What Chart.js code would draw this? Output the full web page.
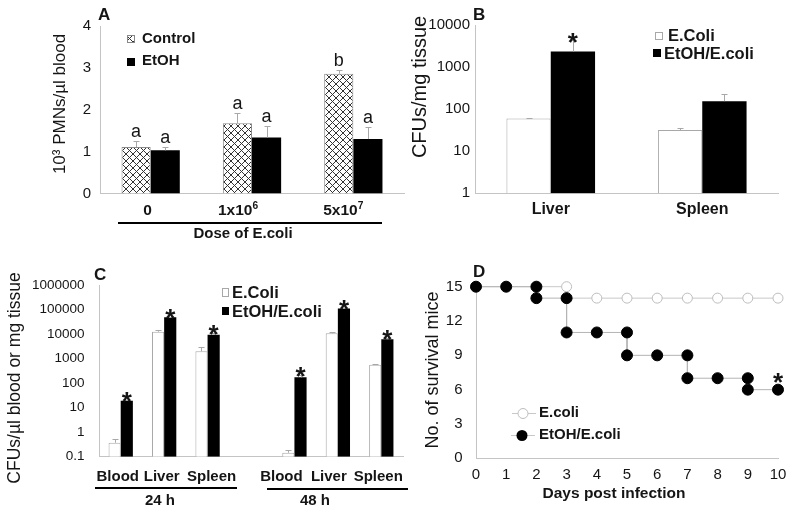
<!DOCTYPE html>
<html lang="en">
<head>
  <meta charset="UTF-8">
  <title>Ethanol and E. coli infection</title>
  <script src="https://cdn.jsdelivr.net/npm/chart.js"></script>
  <style>
    body { margin: 0; background: #fff; }
    #wrap { position: relative; width: 800px; height: 518px; }
    #wrap canvas { position: absolute; left: 0; top: 0; }
  </style>
</head>
<body>
  <div id="wrap">
    <canvas id="chartA" width="800" height="518"></canvas>
    <canvas id="chartB" width="800" height="518"></canvas>
    <canvas id="chartC" width="800" height="518"></canvas>
    <canvas id="chartD" width="800" height="518"></canvas>
  </div>
  <script>
    // panel A - blood PMNs
    const doseLabels = ['0', '1x10⁶', '5x10⁷'];
    const pmnControl = [1.11, 1.68, 2.86];
    const pmnControlSd = [0.15, 0.24, 0.09];
    const pmnEtoh = [1.03, 1.34, 1.30];
    const pmnEtohSd = [0.09, 0.28, 0.30];
    const pmnControlGroup = ['a', 'a', 'b'];
    const pmnEtohGroup = ['a', 'a', 'a'];

    // panel B - CFUs per mg tissue
    const organLabels = ['Liver', 'Spleen'];
    const organEcoli = [60, 32];
    const organEcoliSd = [2, 3];
    const organEtoh = [2350, 155];
    const organEtohSd = [1950, 80];
    const organEtohSig = ['*', ''];
    const organTicks = [1, 10, 100, 1000, 10000];

    // panel C - 24 h / 48 h
    const timeLabels = ['Blood', 'Liver', 'Spleen', '', 'Blood', 'Liver', 'Spleen'];
    const timeEcoli = [0.37, 12500, 2000, null, 0.145, 10700, 560];
    const timeEcoliSd = [0.17, 1500, 900, null, 0.045, 1800, 40];
    const timeEtoh = [19, 48000, 9400, null, 172, 110000, 6200];
    const timeEtohSd = [1, 3000, 1500, null, 45, 5000, 400];
    const timeEtohSig = ['*', '*', '*', '', '*', '*', '*'];
    const timeTicks = [0.1, 1, 10, 100, 1000, 10000, 100000, 1000000];

    // panel D - survival
    const ecoliDays = [0, 1, 2, 3, 3, 4, 5, 6, 7, 8, 9, 10];
    const ecoliAlive = [15, 15, 15, 15, 14, 14, 14, 14, 14, 14, 14, 14];
    const etohDays = [0, 1, 2, 2, 3, 3, 4, 5, 5, 6, 7, 7, 8, 9, 9, 10];
    const etohAlive = [15, 15, 15, 14, 14, 11, 11, 11, 9, 9, 9, 7, 7, 7, 6, 6];

    const FONT = "'Liberation Sans', Arial, sans-serif";
    const ink = '#151515';
    const axisGrey = '#c4c4c4';
    const barGrey = '#a8a8a8';
    Chart.defaults.font.family = FONT;
    Chart.defaults.color = ink;

    const plain = s => s + 'px ' + FONT;
    const bold = s => 'bold ' + s + 'px ' + FONT;
    const SUPS = '⁰¹²³⁴⁵⁶⁷⁸⁹';

    function label(ctx, s, x, y, font, align, rot) {
      ctx.save();
      ctx.font = font;
      ctx.fillStyle = ink;
      ctx.textAlign = align || 'center';
      ctx.textBaseline = 'middle';
      ctx.translate(x, y);
      if (rot) ctx.rotate(rot);
      ctx.fillText(s, 0, 0);
      ctx.restore();
    }

    // bold label whose trailing superscript digits are drawn smaller and raised
    function supLabel(ctx, s, x, y, size) {
      const m = s.match(/^(.*?)([⁰-⁹]*)$/);
      const base = m[1];
      const sup = [...m[2]].map(c => SUPS.indexOf(c)).join('');
      const supSize = size * 0.66;
      ctx.save();
      ctx.fillStyle = ink;
      ctx.textBaseline = 'middle';
      ctx.textAlign = 'left';
      ctx.font = bold(size);
      const wb = ctx.measureText(base).width;
      ctx.font = bold(supSize);
      const ws = sup ? ctx.measureText(sup).width : 0;
      const left = x - (wb + ws) / 2;
      ctx.font = bold(size);
      ctx.fillText(base, left, y);
      if (sup) {
        ctx.font = bold(supSize);
        ctx.fillText(sup, left + wb, y - size * 0.3);
      }
      ctx.restore();
    }

    function rule(ctx, x1, x2, y) {
      ctx.save();
      ctx.strokeStyle = '#000';
      ctx.lineWidth = 2;
      ctx.beginPath();
      ctx.moveTo(x1, y);
      ctx.lineTo(x2, y);
      ctx.stroke();
      ctx.restore();
    }

    function box(ctx, x, y, w, h, fill, stroke) {
      ctx.save();
      ctx.fillStyle = fill;
      ctx.fillRect(x, y, w, h);
      if (stroke) {
        ctx.strokeStyle = stroke;
        ctx.lineWidth = 1;
        ctx.strokeRect(x + 0.5, y + 0.5, w - 1, h - 1);
      }
      ctx.restore();
    }

    function makeHatch() {
      const c = document.createElement('canvas');
      c.width = 7; c.height = 7;
      const g = c.getContext('2d');
      g.fillStyle = '#fff';
      g.fillRect(0, 0, 7, 7);
      g.strokeStyle = '#333';
      g.lineWidth = 1;
      g.beginPath();
      g.moveTo(-1, -1); g.lineTo(8, 8);
      g.moveTo(8, -1); g.lineTo(-1, 8);
      g.stroke();
      return g.createPattern(c, 'repeat');
    }
    const hatch = makeHatch();

    // thin grey error bars above each bar (dataset.sd)
    const errorBars = {
      id: 'errorBars',
      afterDatasetsDraw(chart) {
        const ctx = chart.ctx;
        const y = chart.scales.y;
        ctx.save();
        ctx.strokeStyle = barGrey;
        ctx.lineWidth = 1;
        chart.data.datasets.forEach((ds, i) => {
          if (!ds.sd) return;
          chart.getDatasetMeta(i).data.forEach((bar, j) => {
            if (ds.data[j] == null || !ds.sd[j]) return;
            const top = Math.round(y.getPixelForValue(ds.data[j] + ds.sd[j])) + 0.5;
            const x = Math.round(bar.x) + 0.5;
            ctx.beginPath();
            ctx.moveTo(x, bar.y);
            ctx.lineTo(x, top);
            ctx.moveTo(x - 3, top);
            ctx.lineTo(x + 3, top);
            ctx.stroke();
          });
        });
        ctx.restore();
      }
    };

    // letters / asterisks over the error bars (dataset.marks)
    const barMarks = {
      id: 'barMarks',
      afterDatasetsDraw(chart, args, opts) {
        const ctx = chart.ctx;
        const y = chart.scales.y;
        ctx.save();
        ctx.font = opts.font;
        ctx.fillStyle = ink;
        ctx.textAlign = 'center';
        ctx.textBaseline = 'alphabetic';
        chart.data.datasets.forEach((ds, i) => {
          if (!ds.marks) return;
          chart.getDatasetMeta(i).data.forEach((bar, j) => {
            if (!ds.marks[j]) return;
            const top = y.getPixelForValue(ds.data[j] + (ds.sd ? ds.sd[j] : 0));
            ctx.fillText(ds.marks[j], bar.x, top + opts.lift);
          });
        });
        ctx.restore();
      }
    };
    Chart.register(errorBars, barMarks);

    const noGrid = { display: false, drawTicks: false };
    const border = { color: axisGrey };
    const fixW = w => (s => { s.width = w; });
    const fixH = h => (s => { s.height = h; });
    const powerTicks = list => (s => { s.ticks = list.map(v => ({ value: v })); });
    const quiet = { legend: { display: false }, tooltip: { enabled: false } };

    // ---------- A ----------
    const doseNudge = [-3, -14, -10];
    const panelA = {
      id: 'panelA',
      afterDraw(chart) {
        const ctx = chart.ctx;
        const x = chart.scales.x;
        label(ctx, 'A', 98, 15, bold(17), 'left');
        label(ctx, '10³ PMNs/µl blood', 60, 104, plain(17), 'center', -Math.PI / 2);
        doseLabels.forEach((t, i) => supLabel(ctx, t, x.getPixelForValue(i) + doseNudge[i], 211, 15.5));
        box(ctx, 127, 35, 8, 8, hatch, '#888');
        label(ctx, 'Control', 142, 39, bold(15), 'left');
        box(ctx, 127, 58, 8, 8, '#000');
        label(ctx, 'EtOH', 142, 61, bold(15), 'left');
        rule(ctx, 118, 382, 223);
        label(ctx, 'Dose of E.coli', 243, 234, bold(15));
      }
    };

    new Chart(document.getElementById('chartA'), {
      type: 'bar',
      data: {
        labels: doseLabels,
        datasets: [
          { label: 'Control', data: pmnControl, sd: pmnControlSd, marks: pmnControlGroup,
            backgroundColor: hatch, borderColor: '#8a8a8a', borderWidth: 1 },
          { label: 'EtOH', data: pmnEtoh, sd: pmnEtohSd, marks: pmnEtohGroup,
            backgroundColor: '#000', borderWidth: 0 }
        ]
      },
      options: {
        responsive: false,
        animation: false,
        layout: { padding: { left: 40, top: 26, right: 396, bottom: 294.5 } },
        datasets: { bar: { categoryPercentage: 0.575, barPercentage: 1 } },
        scales: {
          x: {
            grid: noGrid, border: border, afterFit: fixH(30),
            ticks: { display: false }
          },
          y: {
            min: 0, max: 4,
            grid: noGrid, border: border, afterFit: fixW(60),
            ticks: { stepSize: 1, font: { size: 15 }, color: ink, padding: 9 }
          }
        },
        plugins: Object.assign({ barMarks: { font: plain(18), lift: -4 } }, quiet)
      },
      plugins: [panelA]
    });

    // ---------- B ----------
    const panelB = {
      id: 'panelB',
      afterDraw(chart) {
        const ctx = chart.ctx;
        label(ctx, 'B', 473, 15.5, bold(17), 'left');
        label(ctx, 'CFUs/mg tissue', 420.5, 87, plain(20), 'center', -Math.PI / 2);
        box(ctx, 655, 32, 8, 8, '#fff', barGrey);
        label(ctx, 'E.Coli', 668, 36, bold(16.5), 'left');
        box(ctx, 653, 49, 8, 8, '#000');
        label(ctx, 'EtOH/E.coli', 664, 54, bold(16.5), 'left');
      }
    };

    new Chart(document.getElementById('chartB'), {
      type: 'bar',
      data: {
        labels: organLabels,
        datasets: [
          { label: 'E.Coli', data: organEcoli, sd: organEcoliSd,
            backgroundColor: '#fff', borderColor: barGrey, borderWidth: 1 },
          { label: 'EtOH/E.coli', data: organEtoh, sd: organEtohSd, marks: organEtohSig,
            backgroundColor: '#000', borderWidth: 0 }
        ]
      },
      options: {
        responsive: false,
        animation: false,
        layout: { padding: { left: 405, top: 25, right: 22, bottom: 294.7 } },
        datasets: { bar: { categoryPercentage: 0.585, barPercentage: 1 } },
        scales: {
          x: {
            grid: noGrid, border: border, afterFit: fixH(30),
            ticks: { font: { size: 16, weight: 'bold' }, color: ink, padding: 6.5, maxRotation: 0 }
          },
          y: {
            type: 'logarithmic', min: 1, max: 10000,
            grid: noGrid, border: border, afterFit: fixW(70),
            afterBuildTicks: powerTicks(organTicks),
            ticks: { font: { size: 15 }, color: ink, padding: 5, callback: v => String(v) }
          }
        },
        plugins: Object.assign({ barMarks: { font: bold(26), lift: 11 } }, quiet)
      },
      plugins: [panelB]
    });

    // ---------- C ----------
    const timeNudge = [-3, -2.5, 4, 0, -13, -9, -3];
    const panelC = {
      id: 'panelC',
      afterDraw(chart) {
        const ctx = chart.ctx;
        const x = chart.scales.x;
        label(ctx, 'C', 94, 275, bold(17), 'left');
        label(ctx, 'CFUs/µl blood or mg tissue', 15, 378, plain(17.5), 'center', -Math.PI / 2);
        timeLabels.forEach((t, i) => {
          if (t) label(ctx, t, x.getPixelForValue(i) + timeNudge[i], 477, bold(15));
        });
        box(ctx, 222, 288, 7, 9, '#fff', barGrey);
        label(ctx, 'E.Coli', 232, 293, bold(16.5), 'left');
        box(ctx, 222, 307, 7, 8, '#000');
        label(ctx, 'EtOH/E.coli', 232, 312, bold(16.5), 'left');
        rule(ctx, 95, 237, 488);
        rule(ctx, 267, 408, 489);
        label(ctx, '24 h', 160, 501, bold(15));
        label(ctx, '48 h', 315, 501, bold(15));
      }
    };

    new Chart(document.getElementById('chartC'), {
      type: 'bar',
      data: {
        labels: timeLabels,
        datasets: [
          { label: 'E.Coli', data: timeEcoli, sd: timeEcoliSd,
            backgroundColor: '#fff', borderColor: barGrey, borderWidth: 1 },
          { label: 'EtOH/E.coli', data: timeEtoh, sd: timeEtohSd, marks: timeEtohSig,
            backgroundColor: '#000', borderWidth: 0 }
        ]
      },
      options: {
        responsive: false,
        animation: false,
        layout: { padding: { left: 29, top: 285, right: 397, bottom: 31.3 } },
        datasets: { bar: { categoryPercentage: 0.56, barPercentage: 1 } },
        scales: {
          x: {
            grid: noGrid, border: border, afterFit: fixH(30),
            ticks: { display: false }
          },
          y: {
            type: 'logarithmic', min: 0.1, max: 1000000,
            grid: noGrid, border: border, afterFit: fixW(70),
            afterBuildTicks: powerTicks(timeTicks),
            ticks: { font: { size: 13.5 }, color: ink, padding: 14.5, callback: v => String(v) }
          }
        },
        plugins: Object.assign({ barMarks: { font: bold(26), lift: 10 } }, quiet)
      },
      plugins: [panelC]
    });

    // ---------- D ----------
    const panelD = {
      id: 'panelD',
      afterDraw(chart) {
        const ctx = chart.ctx;
        const x = chart.scales.x, y = chart.scales.y;
        label(ctx, 'D', 473, 272, bold(17), 'left');
        label(ctx, 'No. of survival mice', 433.5, 370, plain(18), 'center', -Math.PI / 2);
        label(ctx, 'Days post infection', 614, 494, bold(15.5));
        // legend
        ctx.save();
        ctx.lineWidth = 1;
        ctx.strokeStyle = '#c8c8c8';
        ctx.beginPath();
        ctx.moveTo(512, 413.5); ctx.lineTo(536, 413.5);
        ctx.moveTo(511, 435.5); ctx.lineTo(535, 435.5);
        ctx.stroke();
        ctx.beginPath();
        ctx.arc(523, 413.5, 5, 0, Math.PI * 2);
        ctx.fillStyle = '#fff';
        ctx.fill();
        ctx.strokeStyle = '#bdbdbd';
        ctx.stroke();
        ctx.beginPath();
        ctx.arc(522, 435.5, 5.5, 0, Math.PI * 2);
        ctx.fillStyle = '#000';
        ctx.fill();
        ctx.restore();
        label(ctx, 'E.coli', 539, 413, bold(15), 'left');
        label(ctx, 'EtOH/E.coli', 539, 435, bold(15), 'left');
        // significance on the last EtOH point
        ctx.save();
        ctx.font = bold(26);
        ctx.fillStyle = ink;
        ctx.textAlign = 'center';
        ctx.fillText('*', x.getPixelForValue(10), y.getPixelForValue(etohAlive[etohAlive.length - 1]) + 1);
        ctx.restore();
      }
    };

    new Chart(document.getElementById('chartD'), {
      type: 'line',
      data: {
        datasets: [
          { label: 'EtOH/E.coli', data: etohDays.map((d, i) => ({ x: d, y: etohAlive[i] })),
            borderColor: '#b4b4b4', borderWidth: 1, tension: 0,
            pointRadius: 5.5, pointBackgroundColor: '#000', pointBorderColor: '#000', pointBorderWidth: 1 },
          { label: 'E.coli', data: ecoliDays.map((d, i) => ({ x: d, y: ecoliAlive[i] })),
            borderColor: '#c8c8c8', borderWidth: 1, tension: 0,
            pointRadius: 5, pointBackgroundColor: '#fff', pointBorderColor: '#bdbdbd', pointBorderWidth: 1 }
        ]
      },
      options: {
        responsive: false,
        animation: false,
        clip: false,
        layout: { padding: { left: 406, top: 286.7, right: 22, bottom: 29.7 } },
        scales: {
          x: {
            type: 'linear', min: 0, max: 10,
            grid: noGrid, border: border, afterFit: fixH(30),
            ticks: { stepSize: 1, font: { size: 15 }, color: ink, padding: 8 }
          },
          y: {
            min: 0, max: 15,
            grid: noGrid, border: border, afterFit: fixW(70),
            ticks: { stepSize: 3, font: { size: 15 }, color: ink, padding: 13.5 }
          }
        },
        plugins: quiet
      },
      plugins: [panelD]
    });
  </script>
</body>
</html>
